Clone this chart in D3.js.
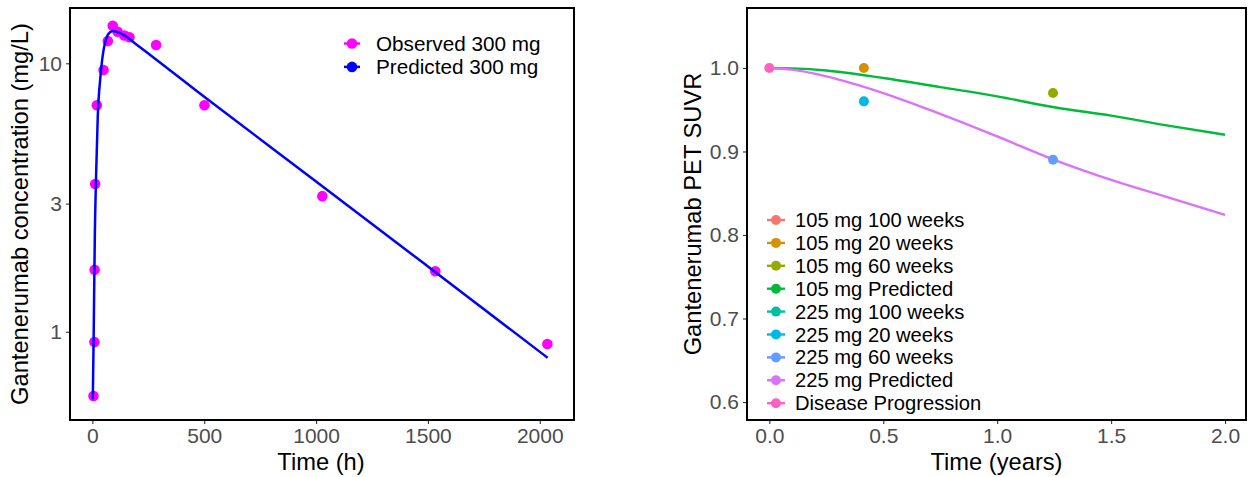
<!DOCTYPE html>
<html>
<head>
<meta charset="utf-8">
<script src="https://cdn.jsdelivr.net/npm/d3@7"></script>
<style>
  html, body { margin: 0; padding: 0; background: #fff; }
  svg { display: block; font-family: "Liberation Sans", Arial, sans-serif; }
</style>
</head>
<body>
<svg id="chart" width="1251" height="477"></svg>
<script>
// left panel: PK concentration
const obsTime = [5, 9, 10, 12.5, 20, 50, 69, 91, 113, 143, 166, 285, 501, 1028, 1533, 2034];
const obsConc = [0.576, 0.915, 1.70, 3.55, 6.98, 9.44, 12.1, 13.8, 13.1, 12.7, 12.5, 11.7, 6.98, 3.20, 1.68, 0.90];
const predTime = [2, 6, 11, 17, 24, 36, 50, 76, 95, 120, 143, 200, 500, 1000, 1500, 2035];
const predConc = [0.56, 1.0, 2.3, 3.9, 6.3, 8.9, 11.2, 13.0, 13.2, 13.0, 12.7, 11.7, 7.5, 3.63, 1.75, 0.80];
const pkTicksX = [0, 500, 1000, 1500, 2000];
const pkTicksY = [1, 3, 10];
const pkLegend = ['Observed 300 mg', 'Predicted 300 mg'];

// right panel: PET SUVR
const groups = ['105 mg 100 weeks', '105 mg 20 weeks', '105 mg 60 weeks', '105 mg Predicted',
  '225 mg 100 weeks', '225 mg 20 weeks', '225 mg 60 weeks', '225 mg Predicted', 'Disease Progression'];
const groupColours = ['#F8766D', '#D39200', '#93AA00', '#00BA38', '#00C19F', '#00B9E3', '#619CFF', '#DB72FB', '#FF61C3'];
const suvrGroup = ['105 mg 20 weeks', '225 mg 20 weeks', '105 mg 60 weeks', '225 mg 60 weeks', 'Disease Progression'];
const suvrYears = [0.415, 0.415, 1.245, 1.245, 0];
const suvrValue = [1.0, 0.96, 0.97, 0.89, 1.0];
const predYears = [0, 0.1, 0.25, 0.5, 0.75, 1.0, 1.25, 1.5, 1.75, 2.0];
const pred105 = [1.0, 0.9995, 0.997, 0.988, 0.977, 0.966, 0.953, 0.943, 0.931, 0.920];
const pred225 = [1.0, 0.998, 0.990, 0.970, 0.945, 0.918, 0.890, 0.866, 0.845, 0.824];
const suvrTicksX = [0, 0.5, 1, 1.5, 2];
const suvrTicksY = [0.6, 0.7, 0.8, 0.9, 1.0];

const svg = d3.select('#chart');
const tickGrey = '#4D4D4D';

function frame(g, x0, y0, w, h) {
  g.append('rect')
    .attr('x', x0).attr('y', y0).attr('width', w).attr('height', h)
    .attr('fill', 'none').attr('stroke', '#000').attr('stroke-width', 2);
}

function styleAxis(sel) {
  sel.select('.domain').remove();
  sel.selectAll('.tick line').attr('stroke', '#333').attr('stroke-width', 1.1);
  sel.selectAll('.tick text')
    .attr('fill', tickGrey)
    .style('font-size', '21px')
    .style('font-family', '"Liberation Sans", Arial, sans-serif');
}

// ---------- left panel ----------
const L = { x0: 70, y0: 8, x1: 574, y1: 420 };
const xPk = d3.scaleLinear().domain([-100, 2153]).range([L.x0, L.x1]);
const yPk = d3.scaleLog().domain([0.469, 16.07]).range([L.y1, L.y0]);

const gl = svg.append('g');

gl.append('g')
  .attr('transform', `translate(0,${L.y1})`)
  .call(d3.axisBottom(xPk).tickValues(pkTicksX).tickSize(4).tickPadding(4).tickFormat(d3.format('d')))
  .call(styleAxis);

gl.append('g')
  .attr('transform', `translate(${L.x0},0)`)
  .call(d3.axisLeft(yPk).tickValues(pkTicksY).tickSize(4).tickPadding(4).tickFormat(d3.format('d')))
  .call(styleAxis);

gl.selectAll('circle.obs')
  .data(obsTime.map((t, i) => [t, obsConc[i]]))
  .enter()
  .append('circle')
  .attr('class', 'obs')
  .attr('cx', (d) => xPk(d[0]))
  .attr('cy', (d) => yPk(d[1]))
  .attr('r', 5.3)
  .attr('fill', '#FF00FF');

const pkLine = d3.line()
  .x((d) => xPk(d[0]))
  .y((d) => yPk(d[1]))
  .curve(d3.curveMonotoneX);

gl.append('path')
  .datum(predTime.map((t, i) => [t, predConc[i]]))
  .attr('d', pkLine)
  .attr('fill', 'none')
  .attr('stroke', '#0000FF')
  .attr('stroke-width', 2.5);

frame(gl, L.x0, L.y0, L.x1 - L.x0, L.y1 - L.y0);

// legend
const pkCols = ['#FF00FF', '#0000FF'];
pkLegend.forEach((label, i) => {
  const y = 43.5 + i * 23.4;
  gl.append('line')
    .attr('x1', 344).attr('x2', 360).attr('y1', y).attr('y2', y)
    .attr('stroke', pkCols[i]).attr('stroke-width', 2.5);
  gl.append('circle').attr('cx', 352).attr('cy', y).attr('r', 5.3).attr('fill', pkCols[i]);
  gl.append('text')
    .attr('x', 376).attr('y', y).attr('dy', '0.35em')
    .style('font-size', '20.7px')
    .text(label);
});

gl.append('text')
  .attr('x', (L.x0 + L.x1) / 2 - 1)
  .attr('y', 470)
  .attr('text-anchor', 'middle')
  .style('font-size', '23.7px')
  .text('Time (h)');

gl.append('text')
  .attr('transform', `translate(20,${(L.y0 + L.y1) / 2}) rotate(-90)`)
  .attr('dy', '0.35em')
  .attr('text-anchor', 'middle')
  .style('font-size', '23.7px')
  .text('Gantenerumab concentration (mg/L)');

// ---------- right panel ----------
const R = { x0: 747, y0: 8, x1: 1246, y1: 420 };
const xS = d3.scaleLinear().domain([-0.098, 2.092]).range([R.x0, R.x1]);
const yS = d3.scaleLinear().domain([0.5785, 1.0718]).range([R.y1, R.y0]);
const colour = d3.scaleOrdinal().domain(groups).range(groupColours);

const gr = svg.append('g');

gr.append('g')
  .attr('transform', `translate(0,${R.y1})`)
  .call(d3.axisBottom(xS).tickValues(suvrTicksX).tickSize(4).tickPadding(4).tickFormat(d3.format('.1f')))
  .call(styleAxis);

gr.append('g')
  .attr('transform', `translate(${R.x0},0)`)
  .call(d3.axisLeft(yS).tickValues(suvrTicksY).tickSize(4).tickPadding(4).tickFormat(d3.format('.1f')))
  .call(styleAxis);

const suvrLine = d3.line()
  .x((d) => xS(d[0]))
  .y((d) => yS(d[1]))
  .curve(d3.curveMonotoneX);

[['105 mg Predicted', pred105], ['225 mg Predicted', pred225]].forEach(([name, vals]) => {
  gr.append('path')
    .datum(predYears.map((t, i) => [t, vals[i]]))
    .attr('d', suvrLine)
    .attr('fill', 'none')
    .attr('stroke', colour(name))
    .attr('stroke-width', 2.4);
});

gr.selectAll('circle.obs')
  .data(suvrGroup.map((g, i) => ({ g, t: suvrYears[i], v: suvrValue[i] })))
  .enter()
  .append('circle')
  .attr('class', 'obs')
  .attr('cx', (d) => xS(d.t))
  .attr('cy', (d) => yS(d.v))
  .attr('r', 5)
  .attr('fill', (d) => colour(d.g));

frame(gr, R.x0, R.y0, R.x1 - R.x0, R.y1 - R.y0);

groups.forEach((label, i) => {
  const y = 220 + i * 22.9;
  gr.append('line')
    .attr('x1', 767).attr('x2', 785).attr('y1', y).attr('y2', y)
    .attr('stroke', colour(label)).attr('stroke-width', 2.4);
  gr.append('circle').attr('cx', 776).attr('cy', y).attr('r', 5).attr('fill', colour(label));
  gr.append('text')
    .attr('x', 795).attr('y', y).attr('dy', '0.35em')
    .style('font-size', '20.2px')
    .text(label);
});

gr.append('text')
  .attr('x', (R.x0 + R.x1) / 2)
  .attr('y', 470)
  .attr('text-anchor', 'middle')
  .style('font-size', '23.7px')
  .text('Time (years)');

gr.append('text')
  .attr('transform', `translate(693,${(R.y0 + R.y1) / 2}) rotate(-90)`)
  .attr('dy', '0.35em')
  .attr('text-anchor', 'middle')
  .style('font-size', '23.7px')
  .text('Gantenerumab PET SUVR');
</script>
</body>
</html>
